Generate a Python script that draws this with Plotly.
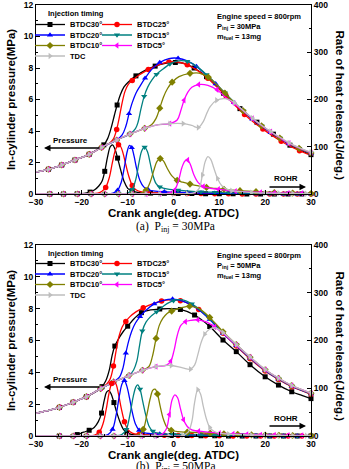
import plotly.graph_objects as go

# ---------------- DATA ----------------
names = ["BTDC30°", "BTDC25°", "BTDC20°", "BTDC15°", "BTDC10°", "BTDC5°", "TDC"]

# ---- (a) Pinj = 30 MPa : in-cylinder pressure (MPa) ----
a_ca_p30 = [-30, -27.3, -24.4, -21.5, -18.4, -16.2, -15.2, -14.4, -13.6, -12.9, -12.3, -11.6, -10.8, -9.9, -8.2, -6.2, -4.0, -1.8, 0.4, 2.5, 4.5, 7.2, 9.0, 10.9, 12.7, 14.5, 16.3, 18.2, 20.0, 21.8, 23.6, 25.4, 27.3, 30.0]
a_p30 = [1.40, 1.57, 1.84, 2.16, 2.52, 2.90, 3.12, 3.50, 4.20, 5.00, 5.65, 6.30, 6.80, 7.10, 7.50, 7.85, 8.12, 8.30, 8.35, 8.28, 8.00, 7.45, 6.95, 6.40, 5.90, 5.42, 4.98, 4.56, 4.16, 3.80, 3.45, 3.10, 2.82, 2.50]
a_ca_p25 = [-30, -27.3, -24.4, -21.5, -18.4, -15.7, -14.0, -13.1, -12.4, -11.8, -11.2, -10.6, -9.9, -9.0, -7.5, -5.5, -3.3, -1.0, 1.0, 3.0, 5.2, 7.5, 9.5, 11.5, 13.5, 15.5, 17.5, 19.5, 21.5, 23.5, 25.5, 27.5, 30.0]
a_p25 = [1.40, 1.57, 1.84, 2.16, 2.52, 2.96, 3.22, 3.50, 4.10, 4.90, 5.80, 6.50, 6.95, 7.20, 7.55, 7.90, 8.20, 8.38, 8.38, 8.20, 7.85, 7.35, 6.80, 6.20, 5.60, 5.05, 4.55, 4.12, 3.72, 3.35, 3.02, 2.75, 2.45]
a_ca_p20 = [-30, -27.3, -24.4, -21.5, -18.4, -15.7, -12.4, -11.2, -10.4, -9.7, -9.0, -8.2, -7.3, -6.2, -4.8, -3.0, -1.0, 1.0, 3.0, 5.0, 7.2, 9.2, 11.2, 13.2, 15.2, 17.2, 19.2, 21.2, 23.2, 25.2, 27.4, 30.0]
a_p20 = [1.40, 1.57, 1.84, 2.16, 2.52, 2.96, 3.43, 3.75, 4.30, 5.10, 5.80, 6.40, 6.85, 7.35, 7.90, 8.35, 8.60, 8.62, 8.45, 8.10, 7.55, 7.00, 6.40, 5.80, 5.25, 4.75, 4.30, 3.90, 3.52, 3.18, 2.88, 2.58]
a_ca_p15 = [-30, -27.3, -24.4, -21.5, -18.4, -15.7, -12.4, -9.5, -8.3, -7.7, -7.1, -6.4, -5.6, -4.7, -3.7, -2.2, -0.8, 1.0, 3.0, 5.0, 7.2, 9.2, 11.2, 13.2, 15.2, 17.2, 19.2, 21.2, 23.2, 25.2, 27.4, 30.0]
a_p15 = [1.40, 1.57, 1.84, 2.16, 2.52, 2.96, 3.43, 3.81, 4.15, 4.60, 5.40, 6.20, 6.80, 7.25, 7.60, 7.95, 8.25, 8.45, 8.42, 8.12, 7.58, 7.02, 6.42, 5.83, 5.28, 4.78, 4.33, 3.93, 3.55, 3.20, 2.90, 2.60]
a_ca_p10 = [-30, -27.3, -24.4, -21.5, -18.4, -15.7, -12.4, -9.5, -6.3, -4.8, -3.8, -3.0, -2.2, -1.3, -0.3, 1.2, 3.6, 5.6, 7.6, 9.4, 11.2, 13.2, 15.2, 17.2, 19.2, 21.2, 23.2, 25.2, 27.4, 30.0]
a_p10 = [1.40, 1.57, 1.84, 2.16, 2.52, 2.96, 3.43, 3.81, 4.17, 4.40, 4.80, 5.45, 6.15, 6.70, 7.10, 7.45, 7.66, 7.68, 7.42, 6.95, 6.40, 5.82, 5.28, 4.78, 4.33, 3.93, 3.55, 3.20, 2.90, 2.60]
a_ca_p5 = [-30, -27.3, -24.4, -21.5, -18.4, -15.7, -12.4, -9.5, -6.3, -3.8, -0.8, 0.8, 1.6, 2.3, 3.1, 4.0, 5.5, 7.5, 9.5, 11.3, 13.2, 15.2, 17.2, 19.2, 21.2, 23.2, 25.2, 27.4, 30.0]
a_p5 = [1.40, 1.57, 1.84, 2.16, 2.52, 2.96, 3.43, 3.81, 4.17, 4.38, 4.47, 4.70, 5.30, 5.95, 6.45, 6.78, 6.95, 6.90, 6.62, 6.15, 5.75, 5.28, 4.80, 4.35, 3.95, 3.57, 3.22, 2.92, 2.62]
a_ca_p0 = [-30, -27.3, -24.4, -21.5, -18.4, -15.7, -12.4, -9.5, -6.3, -3.8, -0.8, 2.1, 4.0, 5.4, 6.5, 7.3, 8.0, 9.4, 11.3, 13.3, 15.2, 17.2, 19.2, 21.2, 23.2, 25.2, 27.4, 30.0]
a_p0 = [1.40, 1.57, 1.84, 2.16, 2.52, 2.96, 3.43, 3.81, 4.17, 4.38, 4.47, 4.47, 4.35, 4.22, 4.60, 5.15, 5.55, 5.95, 6.05, 5.80, 5.30, 4.82, 4.37, 3.97, 3.60, 3.25, 2.95, 2.65]

# ---- (a) Pinj = 30 MPa : rate of heat release (J/deg.) ----
a_ca_r30 = [-30, -27, -24, -21, -19.5, -18.2, -17.2, -16.3, -15.6, -15.0, -14.4, -13.8, -13.3, -12.8, -12.2, -11.5, -10.8, -10.0, -9.0, -7.5, -5.0, -2.0, 1.0, 4.0, 7.0, 10.0, 13.0, 16.0, 19.0, 22.0, 25.0, 28.0, 30.0]
a_r30 = [0, 0, 0, 0.5, 1.5, 4, 9, 17, 27, 48, 78, 100, 104, 96, 76, 50, 27, 12, 6, 3, 2, 1.5, 1, 1, 0.5, 0.5, 0.5, 0, 0, 0, 0, 0, 0]
a_ca_r25 = [-30, -27, -24, -21, -18, -16.5, -15.6, -14.8, -14.0, -13.3, -12.6, -12.0, -11.5, -11.0, -10.4, -9.7, -9.0, -8.2, -7.2, -5.5, -3.0, 0, 3.0, 6.0, 9.0, 12.0, 15.0, 18.0, 21.0, 24.0, 27.0, 30.0]
a_r25 = [0, 0, 0, 0, 0.5, 2, 6, 14, 35, 68, 95, 104, 100, 86, 62, 36, 18, 9, 5, 3, 2, 1.5, 1, 1, 0.5, 0.5, 0, 0, 0, 0, 0, 0]
a_ca_r20 = [-30, -27, -24, -21, -18, -15, -13.2, -12.2, -11.4, -10.7, -10.1, -9.6, -9.1, -8.6, -8.0, -7.3, -6.5, -5.5, -4.0, -2.0, 0, 3.0, 6.0, 9.0, 12.0, 15.0, 18.0, 21.0, 24.0, 27.0, 30.0]
a_r20 = [0, 0, 0, 0, 0, 0.5, 2, 8, 25, 58, 90, 103, 98, 80, 52, 28, 15, 9, 6, 5, 4, 3, 2, 1.5, 1, 1, 0.5, 0.5, 0, 0, 0]
a_ca_r15 = [-30, -27, -24, -21, -18, -15, -12, -10.0, -9.0, -8.2, -7.5, -6.9, -6.3, -5.7, -5.1, -4.5, -3.8, -3.0, -2.0, -0.9, 1.0, 3.5, 6.0, 9.0, 12.0, 15.0, 18.0, 21.0, 24.0, 27.0, 30.0]
a_r15 = [0, 0, 0, 0, 0, 0, 0.5, 2, 10, 32, 68, 92, 99, 90, 66, 40, 22, 15, 12, 10, 8, 6, 4.5, 3.5, 2.5, 2, 1.5, 1, 0.5, 0.5, 0]
a_ca_r10 = [-30, -27, -24, -21, -18, -15, -12, -9, -7.0, -6.0, -5.1, -4.3, -3.6, -2.9, -2.2, -1.4, -0.4, 0.8, 2.0, 3.6, 5.5, 7.2, 9.0, 11.0, 14.5, 18.0, 22.0, 26.0, 30.0]
a_r10 = [0, 0, 0, 0, 0, 0, 0, 0.5, 2, 8, 25, 50, 69, 75, 70, 55, 39, 29, 25, 21, 17, 14, 12, 10, 7, 5, 3, 2, 1]
a_ca_r5 = [-30, -27, -24, -21, -18, -15, -12, -9, -6, -3, -1.0, 0.2, 1.1, 1.8, 2.5, 3.1, 3.7, 4.4, 5.4, 6.5, 8.0, 9.8, 11.5, 13.5, 16.0, 19.0, 22.0, 25.0, 28.0, 30.0]
a_r5 = [0, 0, 0, 0, 0, 0, 0, 0, 0, 0.5, 2, 8, 28, 55, 70, 72, 62, 42, 24, 16, 12, 10, 8, 6, 4.5, 3.5, 2.5, 2, 1.5, 1]
a_ca_r0 = [-30, -27, -24, -21, -18, -15, -12, -9, -6, -3, 0, 3.0, 4.6, 5.6, 6.3, 6.9, 7.5, 8.1, 8.8, 9.6, 10.5, 11.5, 12.7, 14.5, 17.0, 20.0, 23.0, 26.0, 29.0, 30.0]
a_r0 = [0, 0, 0, 0, 0, 0, 0, 0, 0, 0, 0, 0.5, 3, 12, 40, 68, 79, 74, 55, 33, 18, 11, 7, 5, 3, 2, 1.5, 1, 0.5, 0.5]

# ---- (b) Pinj = 50 MPa : in-cylinder pressure (MPa) ----
b_ca_p30 = [-30, -27.6, -24.9, -21.9, -19.0, -16.6, -15.6, -14.8, -14.0, -13.4, -12.8, -12.0, -11.0, -10.0, -8.5, -7.0, -5.0, -3.0, -1.0, 1.5, 4.6, 7.9, 10.8, 13.7, 16.7, 20.0, 22.9, 25.8, 28.0, 30.0]
b_p30 = [1.42, 1.59, 1.80, 2.12, 2.47, 2.85, 3.10, 3.45, 4.15, 5.05, 5.65, 6.10, 6.55, 6.90, 7.40, 7.75, 7.92, 7.98, 8.00, 7.95, 7.60, 6.88, 6.03, 5.30, 4.48, 3.72, 3.20, 2.78, 2.55, 2.35]
b_ca_p25 = [-30, -27.6, -24.9, -21.9, -19.0, -15.9, -14.6, -13.8, -13.1, -12.5, -11.9, -11.2, -10.4, -9.5, -8.2, -6.6, -4.6, -2.6, -0.6, 1.5, 3.5, 5.5, 7.9, 10.8, 13.7, 16.7, 20.0, 22.9, 25.8, 28.0, 30.0]
b_p25 = [1.42, 1.59, 1.80, 2.12, 2.47, 2.98, 3.25, 3.60, 4.40, 5.40, 6.25, 6.85, 7.20, 7.50, 7.80, 8.05, 8.30, 8.48, 8.55, 8.50, 8.30, 7.95, 7.35, 6.45, 5.65, 4.85, 4.08, 3.55, 3.10, 2.85, 2.62]
b_ca_p20 = [-30, -27.6, -24.9, -21.9, -19.0, -15.9, -13.1, -11.8, -11.0, -10.4, -9.8, -9.1, -8.3, -7.3, -6.0, -4.2, -2.2, -0.2, 2.0, 4.0, 6.0, 7.9, 10.8, 13.7, 16.7, 20.0, 22.9, 25.8, 28.0, 30.0]
b_p20 = [1.42, 1.59, 1.80, 2.12, 2.47, 2.98, 3.40, 3.70, 4.30, 5.20, 5.95, 6.60, 7.10, 7.50, 7.90, 8.30, 8.52, 8.60, 8.48, 8.22, 7.82, 7.32, 6.45, 5.68, 4.90, 4.12, 3.58, 3.12, 2.87, 2.65]
b_ca_p15 = [-30, -27.6, -24.9, -21.9, -19.0, -15.9, -13.1, -9.7, -8.7, -8.0, -7.4, -6.8, -6.0, -5.0, -3.7, -2.0, 0.0, 2.0, 4.0, 6.0, 7.9, 10.8, 13.7, 16.7, 20.0, 22.9, 25.8, 28.0, 30.0]
b_p15 = [1.42, 1.59, 1.80, 2.12, 2.47, 2.98, 3.40, 3.80, 4.15, 4.70, 5.70, 6.60, 7.15, 7.50, 7.80, 8.20, 8.50, 8.55, 8.30, 7.88, 7.38, 6.50, 5.72, 4.92, 4.14, 3.60, 3.14, 2.88, 2.66]
b_ca_p10 = [-30, -27.6, -24.9, -21.9, -19.0, -15.9, -13.1, -9.7, -6.8, -5.4, -4.6, -3.8, -3.1, -2.3, -1.4, -0.4, 1.6, 3.5, 5.5, 7.9, 10.8, 13.7, 16.7, 20.0, 22.9, 25.8, 28.0, 30.0]
b_p10 = [1.42, 1.59, 1.80, 2.12, 2.47, 2.98, 3.40, 3.80, 4.13, 4.35, 5.00, 6.13, 6.95, 7.40, 7.70, 7.85, 8.05, 8.15, 8.02, 7.45, 6.55, 5.75, 4.95, 4.16, 3.62, 3.16, 2.90, 2.68]
b_ca_p5 = [-30, -27.6, -24.9, -21.9, -19.0, -15.9, -13.1, -9.7, -6.8, -3.8, -1.5, -0.6, 0.1, 0.8, 1.6, 2.6, 3.8, 5.3, 7.0, 9.0, 10.8, 13.7, 16.7, 20.0, 22.9, 25.8, 28.0, 30.0]
b_p5 = [1.42, 1.59, 1.80, 2.12, 2.47, 2.98, 3.40, 3.80, 4.13, 4.36, 4.45, 4.70, 5.35, 6.30, 6.95, 7.18, 7.27, 7.30, 7.18, 6.85, 6.45, 5.72, 4.95, 4.16, 3.63, 3.17, 2.91, 2.69]
b_ca_p0 = [-30, -27.6, -24.9, -21.9, -19.0, -15.9, -13.1, -9.7, -6.8, -3.8, -0.5, 2.0, 3.7, 4.6, 5.3, 6.0, 6.8, 7.7, 9.0, 10.8, 13.7, 16.7, 20.0, 22.9, 25.8, 28.0, 30.0]
b_p0 = [1.42, 1.59, 1.80, 2.12, 2.47, 2.98, 3.40, 3.80, 4.13, 4.36, 4.43, 4.28, 4.20, 4.45, 5.10, 5.85, 6.40, 6.68, 6.80, 6.50, 5.75, 4.97, 4.18, 3.64, 3.18, 2.92, 2.70]

# ---- (b) Pinj = 50 MPa : rate of heat release (J/deg.) ----
b_ca_r30 = [-30, -27.6, -24.9, -22.5, -21.0, -19.6, -18.4, -17.3, -16.4, -15.7, -15.1, -14.6, -14.1, -13.6, -13.0, -12.4, -11.7, -11.0, -10.2, -9.0, -6.8, -3.8, -0.5, 3.0, 6.0, 9.0, 12.0, 15.0, 18.0, 21.0, 24.0, 27.0, 30.0]
b_r30 = [0, 0, 0, 0.5, 3, 8, 12, 18, 30, 48, 75, 92, 95, 88, 70, 50, 30, 15, 7, 3, 2, 1.5, 1, 1, 0.5, 0.5, 0, 0, 0, 0, 0, 0, 0]
b_ca_r25 = [-30, -27.6, -24.9, -21.9, -19.0, -17.2, -16.2, -15.4, -14.7, -14.1, -13.5, -13.0, -12.5, -12.0, -11.4, -10.7, -10.0, -9.0, -7.5, -5.0, -2.0, 1.0, 4.0, 7.0, 10.0, 13.0, 16.0, 19.0, 22.0, 25.0, 28.0, 30.0]
b_r25 = [0, 0, 0, 0, 0.5, 2, 8, 25, 55, 88, 110, 115, 108, 88, 58, 30, 14, 6, 3, 2, 1.5, 1, 1, 0.5, 0.5, 0, 0, 0, 0, 0, 0, 0]
b_ca_r20 = [-30, -27.6, -24.9, -21.9, -19.0, -16.0, -14.3, -13.3, -12.5, -11.8, -11.2, -10.7, -10.2, -9.6, -9.0, -8.3, -7.5, -6.5, -5.0, -3.0, 0, 3.0, 6.0, 9.0, 12.0, 15.0, 18.0, 21.0, 24.0, 27.0, 30.0]
b_r20 = [0, 0, 0, 0, 0, 0.5, 3, 14, 45, 85, 110, 116, 105, 80, 50, 25, 12, 7, 5, 4, 3, 2, 1.5, 1, 1, 0.5, 0.5, 0, 0, 0, 0]
b_ca_r15 = [-30, -27.6, -24.9, -21.9, -19.0, -16.0, -13.0, -11.3, -10.3, -9.5, -8.8, -8.2, -7.8, -7.3, -6.7, -6.0, -5.3, -4.5, -3.5, -2.0, 0, 3.0, 6.0, 9.0, 12.0, 15.0, 18.0, 21.0, 24.0, 27.0, 30.0]
b_r15 = [0, 0, 0, 0, 0, 0, 0.5, 3, 14, 45, 82, 103, 107, 98, 72, 42, 20, 10, 6, 4.5, 3.5, 3, 2, 1.5, 1, 1, 0.5, 0.5, 0, 0, 0]
b_ca_r10 = [-30, -27.6, -24.9, -21.9, -19.0, -16.0, -13.0, -10.0, -7.6, -6.6, -5.8, -5.1, -4.5, -4.0, -3.5, -2.9, -2.2, -1.4, -0.5, 1.0, 3.0, 5.5, 8.0, 11.0, 14.0, 17.0, 20.0, 23.0, 26.0, 30.0]
b_r10 = [0, 0, 0, 0, 0, 0, 0, 0.5, 3, 14, 45, 78, 96, 98, 88, 62, 35, 18, 12, 9, 8, 7, 6, 4.5, 3.5, 2.5, 2, 1.5, 1, 0.5]
b_ca_r5 = [-30, -27.6, -24.9, -21.9, -19.0, -16.0, -13.0, -10.0, -7.0, -4.0, -2.6, -1.6, -0.9, -0.3, 0.3, 0.9, 1.5, 2.2, 3.0, 4.0, 5.5, 7.5, 10.0, 13.0, 16.0, 19.0, 22.0, 25.0, 28.0, 30.0]
b_r5 = [0, 0, 0, 0, 0, 0, 0, 0, 0, 0.5, 3, 14, 45, 76, 86, 80, 58, 34, 20, 13, 10, 8, 6, 4.5, 3.5, 2.5, 2, 1.5, 1, 1]
b_ca_r0 = [-30, -27.6, -24.9, -21.9, -19.0, -16.0, -13.0, -10.0, -7.0, -4.0, -1.0, 2.0, 3.2, 4.0, 4.6, 5.3, 5.9, 6.5, 7.2, 7.9, 8.8, 10.0, 12.0, 14.5, 17.0, 20.0, 23.0, 26.0, 29.0, 30.0]
b_r0 = [0, 0, 0, 0, 0, 0, 0, 0, 0, 0, 0, 1, 8, 30, 70, 97, 88, 62, 35, 18, 10, 6, 4, 3, 2, 1.5, 1, 0.5, 0.5, 0.5]

# ---------------- STYLE ----------------
colors = ["#000000", "#FF0000", "#0000FF", "#008080", "#808000", "#FF00FF", "#BEBEBE"]
symbols = ["square", "circle", "triangle-up", "triangle-down", "diamond", "triangle-left", "triangle-right"]
SANS = "Liberation Sans, Arial, sans-serif"
SERIF = "Liberation Serif, Times New Roman, serif"

W, H = 349, 469
ML, MR, MT, MB = 36, 38, 5, 33
PW, PH = W - ML - MR, H - MT - MB


def px_x(px):
    return (px - ML) / PW


def px_y(py):
    return (H - MB - py) / PH


def marker_idx(ca, gap=2.6):
    idx, last = [], ca[0]
    for i, c in enumerate(ca):
        if i > 0 and c - last >= gap:
            idx.append(i)
            last = c
    return idx


panels = [
    dict(xa="x", ya="y", yr="y2",
         p=[(a_ca_p30, a_p30), (a_ca_p25, a_p25), (a_ca_p20, a_p20), (a_ca_p15, a_p15),
            (a_ca_p10, a_p10), (a_ca_p5, a_p5), (a_ca_p0, a_p0)],
         r=[(a_ca_r30, a_r30), (a_ca_r25, a_r25), (a_ca_r20, a_r20), (a_ca_r15, a_r15),
            (a_ca_r10, a_r10), (a_ca_r5, a_r5), (a_ca_r0, a_r0)],
         leg0=1, dy=0),
    dict(xa="x2", ya="y3", yr="y4",
         p=[(b_ca_p30, b_p30), (b_ca_p25, b_p25), (b_ca_p20, b_p20), (b_ca_p15, b_p15),
            (b_ca_p10, b_p10), (b_ca_p5, b_p5), (b_ca_p0, b_p0)],
         r=[(b_ca_r30, b_r30), (b_ca_r25, b_r25), (b_ca_r20, b_r20), (b_ca_r15, b_r15),
            (b_ca_r10, b_r10), (b_ca_r5, b_r5), (b_ca_r0, b_r0)],
         leg0=8, dy=239),
]

fig = go.Figure()
legend_layouts = {}
leg_cols = [30, 97]
leg_rows = [24.5, 35, 45.5, 56]

for pn in panels:
    for k in range(7):
        leg_n = pn["leg0"] + k
        leg_id = "legend" if leg_n == 1 else f"legend{leg_n}"
        common = dict(
            mode="lines+markers", line=dict(color=colors[k], width=1.3, shape="spline", smoothing=1.0),
            marker=dict(symbol=symbols[k], color=colors[k], size=5 if k == 0 else 5.5),
            unselected=dict(marker=dict(opacity=0)), selected=dict(marker=dict(opacity=1)),
            hoverinfo="skip", cliponaxis=False,
        )
        cx, cy = pn["p"][k]
        fig.add_trace(go.Scatter(x=cx, y=cy, xaxis=pn["xa"], yaxis=pn["ya"], name=names[k],
                                 legend=leg_id, showlegend=True,
                                 selectedpoints=marker_idx(cx), **common))
        rx, ry = pn["r"][k]
        fig.add_trace(go.Scatter(x=rx, y=ry, xaxis=pn["xa"], yaxis=pn["yr"], name=names[k],
                                 showlegend=False, selectedpoints=marker_idx(rx), **common))
        col, row = k % 2, k // 2
        legend_layouts[leg_id] = dict(
            x=px_x(leg_cols[col]), y=px_y(leg_rows[row] + pn["dy"]), xanchor="left", yanchor="middle",
            bgcolor="rgba(0,0,0,0)", borderwidth=0, itemwidth=30,
            font=dict(family=SANS, size=7.5, color="black", weight="bold"),
        )

tick_font = dict(family=SANS, size=8.5, color="black", weight="bold")
title_font = dict(family=SANS, size=11.5, color="black", weight="bold")
base = dict(showline=True, linecolor="black", linewidth=1.3, ticks="inside", ticklen=4,
            tickwidth=1.1, tickcolor="black", showgrid=False, zeroline=False,
            tickfont=tick_font, automargin=False, ticklabeloverflow="allow")


def xax(anchor):
    return dict(base, anchor=anchor, domain=[0, 1], range=[-30, 30], tick0=-30, dtick=10,
                mirror=True, minor=dict(ticks="inside", ticklen=2, dtick=5, tickcolor="black"),
                title=dict(text="Crank angle(deg. ATDC)", font=title_font, standoff=0))


def yl(anchor, dom):
    return dict(base, anchor=anchor, domain=dom, range=[0, 12], dtick=2,
                minor=dict(ticks="inside", ticklen=2, dtick=1, tickcolor="black"),
                title=dict(text="In-cylinder pressure(MPa)", font=title_font, standoff=5))


def yr(anchor, over):
    return dict(base, anchor=anchor, overlaying=over, side="right", range=[0, 400], dtick=100,
                minor=dict(ticks="inside", ticklen=2, dtick=50, tickcolor="black"))


top_dom = [px_y(194), 1]
bot_dom = [0, px_y(245)]

ann = []
for lab, ycap, dy, pinj, ymid in [
    ("(a)", 227, 0, "30MPa", (5 + 194) / 2 + 6),
    ("(b)", 467, 239, "50MPa", (245 + 436) / 2 + 6),
]:
    ann.append(dict(text=f"{lab}  P<sub>inj</sub> = {pinj}", xref="paper", yref="paper",
                    x=px_x(176), y=px_y(ycap), xanchor="center", yanchor="middle", showarrow=False,
                    font=dict(family=SERIF, size=11.5, color="black")))
    ann.append(dict(text="Injection timing", xref="paper", yref="paper", x=px_x(46), y=px_y(14 + dy),
                    xanchor="left", yanchor="middle", showarrow=False,
                    font=dict(family=SANS, size=7.5, color="black", weight="bold")))
    ann.append(dict(text=f"Engine speed = 800rpm<br>P<sub>inj</sub> = {pinj}<br>m<sub>fuel</sub> = 13mg",
                    xref="paper", yref="paper", x=px_x(215), y=px_y(10 + dy), xanchor="left",
                    yanchor="top", align="left", showarrow=False,
                    font=dict(family=SANS, size=7.5, color="black", weight="bold")))
    ann.append(dict(text="Rate of heat release(J/deg.)", textangle=90, xref="paper", yref="paper",
                    x=px_x(340), y=px_y(ymid), xanchor="center", yanchor="middle", showarrow=False,
                    font=title_font))
    # Pressure arrow + label
    ann.append(dict(text="", xref="paper", yref="paper", x=px_x(44), y=px_y(148 + dy),
                    ax=57, ay=0, showarrow=True, arrowhead=2, arrowsize=1, arrowwidth=1.3,
                    arrowcolor="black", standoff=0))
    ann.append(dict(text="Pressure", xref="paper", yref="paper", x=px_x(70), y=px_y(140 + dy),
                    xanchor="center", yanchor="middle", showarrow=False,
                    font=dict(family=SANS, size=8, color="black", weight="bold")))
    # ROHR arrow + label
    ann.append(dict(text="", xref="paper", yref="paper", x=px_x(306), y=px_y(187 + dy),
                    ax=-38, ay=0, showarrow=True, arrowhead=2, arrowsize=1, arrowwidth=1.3,
                    arrowcolor="black", standoff=0))
    ann.append(dict(text="ROHR", xref="paper", yref="paper", x=px_x(286), y=px_y(179 + dy),
                    xanchor="center", yanchor="middle", showarrow=False,
                    font=dict(family=SANS, size=8, color="black", weight="bold")))

fig.update_layout(
    width=W, height=H, margin=dict(l=ML, r=MR, t=MT, b=MB),
    paper_bgcolor="white", plot_bgcolor="white",
    xaxis=xax("y"), yaxis=yl("x", top_dom), yaxis2=yr("x", "y"),
    xaxis2=xax("y3"), yaxis3=yl("x2", bot_dom), yaxis4=yr("x2", "y3"),
    annotations=ann, font=dict(family=SANS, color="black"),
    **legend_layouts,
)

fig.write_html("out.html")
